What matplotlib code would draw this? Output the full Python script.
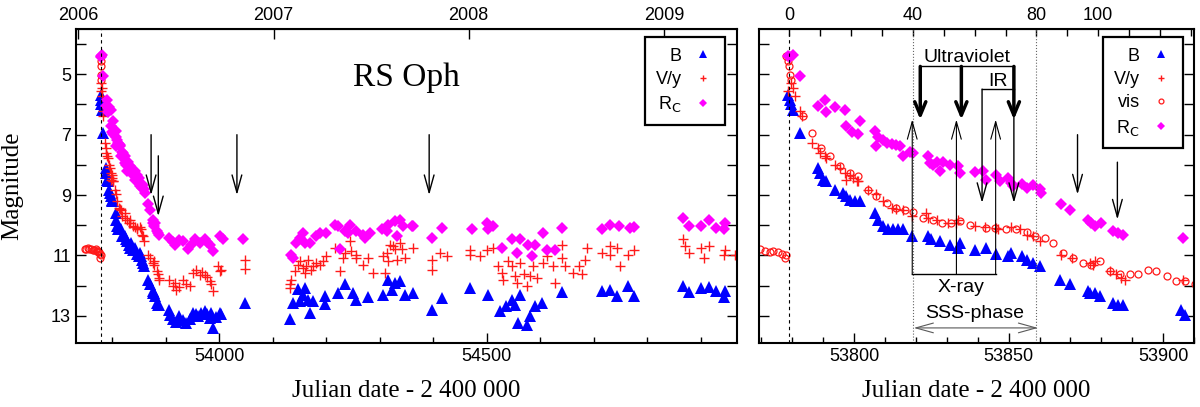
#!/usr/bin/env python3
import numpy as np
import matplotlib
matplotlib.use("Agg")
import matplotlib.pyplot as plt
from matplotlib.ticker import MultipleLocator

# Data (JD - 2400000, magnitudes)
T0 = 53779.0  # outburst

b_jd = [53778.6, 53779.2, 53779.7, 53780.3, 53782.4, 53788.3, 53788.9, 53790.0, 53791.0, 53793.7,
        53796.4, 53797.5, 53798.6, 53800.2, 53801.8, 53806.7, 53807.8, 53809.4, 53811.0, 53812.6,
        53814.2, 53815.9, 53818.6, 53824.0, 53825.0, 53827.7, 53831.0, 53833.7, 53834.2, 53839.0,
        53842.8, 53846.0, 53849.8, 53850.9, 53854.2, 53855.8, 53858.0, 53860.0, 53866.6, 53869.8,
        53875.7, 53876.3, 53877.9, 53879.5, 53883.8, 53885.4, 53887.0, 53905.9, 53907.0,
        53913.1, 53919.4, 53925.6, 53931.9, 53938.1, 53944.4, 53950.6, 53956.9, 53960.0, 53966.0,
        53972.5, 53977.0, 53981.9, 53985.0, 53988.1, 53993.0, 54000.6, 54004.0, 54047.4,
        54131.6, 54137.9, 54147.3, 54150.4, 54156.6, 54159.7, 54166.0, 54169.0, 54175.3, 54197.2,
        54197.2, 54222.2, 54234.7, 54250.3, 54256.5, 54278.4, 54306.5, 54315.9, 54322.1, 54328.4,
        54337.8, 54347.1, 54362.7, 54397.0,
        54416, 54469, 54503, 54525, 54537, 54547, 54553, 54559, 54562, 54575, 54581, 54591, 54603,
        54640, 54715, 54731, 54743, 54765, 54775, 54868, 54878, 54900, 54915, 54928, 54943, 54946]
b_mag = [5.67, 5.84, 6.00, 6.17, 6.94, 8.10, 8.27, 8.49, 8.54, 8.82,
         8.93, 9.04, 9.15, 9.21, 9.21, 9.59, 9.81, 10.03, 10.14, 10.12,
         10.14, 10.12, 10.36, 10.36, 10.47, 10.53, 10.67, 10.75, 10.58, 10.83,
         10.75, 10.94, 11.03, 10.92, 11.03, 11.14, 11.25, 11.36, 11.80, 11.96,
         12.19, 12.24, 12.24, 12.35, 12.57, 12.63, 12.63, 12.79, 12.96,
         13.12, 13.20, 13.01, 13.15, 13.23, 13.12, 12.90, 12.95, 13.01, 12.92,
         12.85, 12.95, 13.07, 12.90, 13.40, 13.05, 12.90, 12.95, 12.57,
         13.10, 12.59, 12.11, 12.51, 12.30, 12.08, 12.46, 12.90, 12.51, 12.35,
         12.62, 12.24, 11.96, 12.24, 12.48, 12.37, 12.30, 11.80, 12.13, 11.91,
         11.85, 12.30, 12.24, 12.79,
         12.41, 12.08, 12.30, 12.85, 12.68, 12.46, 12.63, 13.23, 12.30, 13.29, 13.01, 12.68, 12.57,
         12.22, 12.19, 12.13, 12.35, 12.02, 12.35, 12.00, 12.22, 12.08, 12.04, 12.19, 12.38, 12.19]

v_jd = [53778.6, 53779.7, 53780.3, 53780.8, 53782.4, 53783.0, 53786.2, 53788.3, 53788.9, 53790.5,
        53791.0, 53793.7, 53795.4, 53797.0, 53797.5, 53798.6, 53799.7, 53800.8, 53801.3, 53804.5,
        53807.2, 53809.4, 53812.1, 53813.7, 53815.9, 53818.6, 53823.4, 53824.0, 53826.7, 53830.4,
        53833.1, 53833.7, 53839.0, 53842.3, 53846.0, 53846.6, 53850.9, 53853.6, 53855.8, 53858.0,
        53860.0, 53867.1, 53870.4, 53876.3, 53877.3, 53877.9, 53882.7, 53884.9, 53886.5, 53887.6,
        53906.5,
        53913.1, 53916.3, 53919.4, 53925.6, 53931.9, 53938.1, 53944.4, 53950.6, 53956.9, 53963.1,
        53967.0, 53972.5, 53977.0, 53981.9, 53985.0, 53988.1, 53997.5, 54000.6, 54003.7, 54047.4,
        54047.4,
        54131.6, 54131.6, 54134.8, 54141.0, 54147.3, 54150.4, 54156.6, 54159.7, 54162.9, 54166.0,
        54172.2, 54175.3, 54181.5, 54187.7, 54194.0, 54200.2, 54215.9, 54225.3, 54231.6, 54234.7,
        54244.0, 54247.2, 54256.5, 54256.5, 54269.0, 54278.4, 54287.8, 54306.5, 54309.6, 54312.8,
        54315.9, 54319.0, 54325.3, 54328.4, 54331.5, 54337.8, 54340.9, 54347.1, 54362.7, 54397.0,
        54397.0,
        54413, 54425, 54469, 54469, 54488, 54500, 54512, 54522, 54528, 54531, 54540, 54547, 54553,
        54556, 54562, 54569, 54575, 54581, 54587, 54594, 54606, 54612, 54625, 54628, 54640, 54640,
        54647, 54662, 54672, 54678, 54684, 54687, 54715, 54731, 54731, 54743, 54750, 54765, 54775,
        54868, 54871, 54878, 54900, 54906, 54915, 54943, 54946, 54965]
v_mag = [5.56, 5.29, 5.45, 5.71, 6.23, 6.39, 7.27, 7.44, 7.60, 7.72,
         7.77, 8.01, 8.10, 8.27, 8.49, 8.32, 8.43, 8.54, 8.54, 8.82,
         8.98, 9.20, 9.43, 9.46, 9.48, 9.70, 9.59, 9.76, 9.81, 9.92,
         9.92, 9.81, 10.03, 10.07, 10.09, 10.14, 10.07, 10.14, 10.31, 10.36,
         10.53, 10.97, 11.08, 11.25, 11.30, 11.19, 11.52, 11.63, 11.74, 11.80,
         11.80,
         12.02, 11.90, 12.13, 12.05, 11.80, 11.95, 12.02, 11.58, 11.47, 11.64,
         11.55, 11.64, 11.70, 11.86, 11.95, 12.19, 11.36, 11.50, 11.47, 11.14,
         11.45,
         11.96, 12.07, 11.80, 11.52, 11.30, 11.19, 11.41, 11.58, 11.36, 11.14,
         11.47, 11.36, 11.25, 11.30, 11.19, 11.03, 10.75, 11.52, 11.08, 10.91,
         10.53, 10.86, 10.97, 11.08, 11.30, 11.08, 11.58, 11.03, 11.58, 10.91,
         11.19, 10.64, 10.69, 10.80, 11.14, 10.58, 10.80, 11.08, 10.75, 11.14,
         11.47,
         10.92, 11.03, 10.81, 10.97, 11.03, 10.81, 10.75, 11.36, 11.58, 11.80, 11.19, 11.36, 11.69,
         11.91, 11.25, 11.63, 12.02, 11.69, 11.36, 11.74, 11.25, 11.03, 11.36, 11.91, 10.64, 11.08,
         11.36, 11.58, 11.36, 11.63, 11.14, 10.75, 10.92, 10.70, 10.97, 10.75, 11.36, 10.97, 10.81,
         10.47, 10.70, 10.92, 10.75, 11.08, 10.70, 10.97, 10.81, 10.97]

vis_jd = [53748.0, 53751.0, 53754.0, 53757.0, 53760.0, 53763.0, 53766.0, 53769.5, 53771.1, 53772.7,
          53773.8, 53775.4, 53776.5, 53777.6, 53778.1, 53778.1, 53778.6, 53779.0, 53779.2, 53779.7,
          53783.3, 53786.2, 53789.4, 53792.1, 53795.4, 53798.6, 53801.3, 53804.5, 53807.2, 53810.5,
          53813.7, 53816.4, 53819.1, 53822.3, 53825.6, 53828.3, 53831.5, 53834.2, 53837.4, 53842.8,
          53845.5, 53849.3, 53852.5, 53855.8, 53858.5, 53861.7, 53864.4, 53867.6, 53870.9, 53874.1,
          53876.8, 53879.5, 53882.7, 53886.0, 53889.2, 53891.9, 53895.1, 53897.8, 53901.1, 53904.3,
          53907.0, 53910.2]
vis_mag = [10.80, 10.78, 10.76, 10.80, 10.78, 10.82, 10.82, 10.78, 10.86, 10.88,
           10.86, 10.90, 10.96, 11.07, 11.00, 4.40, 4.57, 4.74, 5.01, 5.18,
           6.37, 6.94, 7.44, 7.72, 8.05, 8.27, 8.38, 8.82, 9.04, 9.26,
           9.43, 9.48, 9.56, 9.76, 9.81, 9.92, 9.94, 9.87, 9.98, 10.09,
           10.09, 10.14, 10.12, 10.22, 10.36, 10.42, 10.58, 10.92, 11.08, 11.25,
           11.30, 11.19, 11.52, 11.63, 11.63, 11.63, 11.47, 11.52, 11.69, 11.85,
           11.85, 11.93]

rc_jd = [53778.6, 53779.2, 53780.3, 53782.4, 53788.3, 53790.5, 53791.0, 53793.7, 53797.0, 53797.5,
         53799.2, 53801.3, 53801.8, 53806.7, 53807.8, 53807.2, 53809.4, 53810.5, 53812.1, 53813.7,
         53814.8, 53815.9, 53818.0, 53819.1, 53824.0, 53824.5, 53825.6, 53826.7, 53827.7, 53828.8,
         53831.0, 53833.7, 53834.2, 53839.0, 53841.7, 53842.8, 53846.0, 53847.1, 53849.8, 53850.9,
         53851.5, 53854.2, 53855.8, 53858.0, 53860.0, 53860.6, 53866.8, 53870.0, 53875.7, 53876.8,
         53877.9, 53880.0, 53883.8, 53885.4, 53887.0, 53906.5,
         53913.0, 53916.3, 53925.0, 53931.9, 53941.3, 53947.0, 53953.8, 53963.1, 53972.5, 53977.0,
         53981.9, 53988.1, 54000.6, 54006.9, 54044.3,
         54134.8, 54137.9, 54143.6, 54150.4, 54156.6, 54159.7, 54169.0, 54181.5, 54187.7, 54200.2,
         54215.9, 54222.2, 54225.3, 54234.7, 54240.9, 54244.0, 54256.5, 54269.0, 54272.2, 54281.6,
         54303.4, 54312.8, 54315.9, 54328.4, 54331.5, 54337.8, 54344.0, 54359.6, 54362.7, 54397.0,
         54416, 54472, 54500, 54503, 54512, 54528, 54547, 54556, 54562, 54578, 54584, 54591, 54606,
         54612, 54628, 54640, 54715, 54731, 54747, 54768, 54775, 54868, 54878, 54900, 54915, 54928,
         54943, 54946]
rc_mag = [4.40, 4.42, 4.35, 5.04, 6.04, 5.84, 6.26, 6.08, 6.19, 6.72,
          6.92, 6.98, 6.56, 6.89, 7.06, 7.38, 7.16, 7.27, 7.30, 7.33,
          7.36, 7.69, 7.58, 7.62, 7.72, 7.94, 8.00, 7.92, 8.21, 7.92,
          8.00, 8.05, 8.27, 8.25, 8.21, 8.49, 8.32, 8.54, 8.43, 8.60,
          8.71, 8.63, 8.76, 8.65, 8.81, 8.93, 9.28, 9.50, 9.81, 9.92,
          10.01, 9.92, 10.20, 10.25, 10.31, 10.42,
          10.55, 10.64, 10.50, 10.53, 10.80, 10.65, 10.47, 10.58, 10.47, 10.55,
          10.64, 10.86, 10.36, 10.45, 10.45,
          10.97, 11.08, 10.58, 10.42, 10.25, 10.58, 10.58, 10.36, 10.25, 10.25,
          9.98, 10.03, 10.80, 10.20, 10.25, 9.98, 10.20, 10.31, 10.42, 10.25,
          10.14, 10.20, 9.98, 9.87, 10.36, 9.81, 10.03, 10.03, 10.03, 10.42,
          10.09, 10.11, 9.92, 10.14, 10.03, 10.75, 10.47, 10.92, 10.45, 10.64, 11.03, 10.64, 10.25,
          10.81, 10.81, 10.09, 10.14, 9.98, 10.03, 10.09, 10.07, 9.76, 10.03, 10.03, 9.81, 10.09,
          10.14, 9.92]

# arrows (JD of observations marked in the figure)
arrows_left = [53872.5, 53886.0, 54033.0, 54392.5]
arrows_left_top = [7.0, 7.7, 7.0, 7.0]
arrows_left_tip = [9.0, 9.7, 9.0, 9.0]
uv_jd = [53821.4, 53834.7, 53851.7]
ir_jd = [53841.4, 53851.7]
xray_jd = [53818.8, 53833.1, 53845.8]

years = [2006, 2007, 2008, 2009]
year_jd = [53736.5, 54101.5, 54466.5, 54832.5]
days_ticks = list(range(0, 140, 10))
days_labels = ['0', '40', '80', '100']

SERIF = 'Liberation Serif'
SANS = 'Liberation Sans'


def plot_series(ax, with_vis):
    hb, = ax.plot(b_jd, b_mag, ls='none', marker='^', ms=8, color='#0000ff', mew=0, label='B')
    hv, = ax.plot(v_jd, v_mag, ls='none', marker='+', ms=7, color='#ff1a1a', mew=1.0, label='V/y')
    vj = np.array(vis_jd)
    vm = np.array(vis_mag)
    if not with_vis:
        # only pre-outburst and peak visual points on the long panel
        keep = vj < 53780
        vj, vm = vj[keep], vm[keep]
    hvis, = ax.plot(vj, vm, ls='none', marker='o', ms=5, mfc='none', mec='#ff1a1a', mew=0.9, label='vis')
    hr, = ax.plot(rc_jd, rc_mag, ls='none', marker='D', ms=6.5, color='#ff00ff', mew=0, label=r'R$_\mathrm{C}$')
    if with_vis:
        return [hb, hv, hvis, hr]
    return [hb, hv, hr]


def style_axes(ax, ylabels):
    ax.set_ylim(13.9, 3.5)
    ax.set_yticks(range(4, 14))
    if ylabels:
        ax.set_yticklabels([str(m) if m % 2 else '' for m in range(4, 14)])
    else:
        ax.set_yticklabels([])
    ax.tick_params(axis='y', which='both', direction='in', left=True, right=True, length=7, width=1)
    ax.tick_params(axis='x', which='major', direction='in', length=7, width=1, top=False)
    ax.tick_params(axis='x', which='minor', direction='in', length=4, width=1, top=False)
    ax.tick_params(labelsize=13)
    for lab in ax.get_xticklabels() + ax.get_yticklabels():
        lab.set_family(SANS)
    for sp in ax.spines.values():
        sp.set_linewidth(1.5)
    ax.set_xlabel('Julian date - 2 400 000', family=SERIF, fontsize=18, labelpad=11)


def legend(ax, handles, anchor):
    leg = ax.legend(handles=handles, loc='upper right', bbox_to_anchor=anchor, borderaxespad=0,
                    markerfirst=False, fancybox=False, edgecolor='k', framealpha=1,
                    prop={'family': SANS, 'size': 13}, handlelength=1.24, handletextpad=0.56,
                    labelspacing=0.35, borderpad=0.6, numpoints=1, markerscale=0.7)
    leg.get_frame().set_linewidth(1.6)


def arrow(ax, x, y0, y1, lw=1.0, style='->,head_length=0.9,head_width=0.25', ms=14, color='k'):
    ax.annotate('', xy=(x, y1), xytext=(x, y0),
                arrowprops=dict(arrowstyle=style, lw=lw, color=color, mutation_scale=ms,
                                shrinkA=0, shrinkB=0))


def main():
    plt.rcParams['mathtext.default'] = 'regular'
    fig = plt.figure(figsize=(12, 4.07), dpi=100)
    ax1 = fig.add_axes([0.0633, 0.1572, 0.5508, 0.7715])
    ax2 = fig.add_axes([0.6325, 0.1572, 0.3625, 0.7715])

    # --- left panel: whole light curve 2006-2009
    h1 = plot_series(ax1, with_vis=False)
    ax1.set_xlim(53732, 54968)
    ax1.axvline(T0, color='k', ls=(0, (3, 3)), lw=0.8)
    ax1.xaxis.set_major_locator(MultipleLocator(500))
    ax1.xaxis.set_minor_locator(MultipleLocator(100))
    style_axes(ax1, ylabels=True)
    ax1.set_ylabel('Magnitude', family=SERIF, fontsize=18)
    ax1.yaxis.set_label_coords(-0.08, 0.5)
    legend(ax1, h1, (0.982, 0.975))
    ax1.text(54350, 5.1, 'RS Oph', family=SERIF, fontsize=24, ha='center', va='center')
    for x, y0, y1 in zip(arrows_left, arrows_left_top, arrows_left_tip):
        arrow(ax1, x, y0, y1)
    top1 = ax1.secondary_xaxis('top')
    top1.set_xticks(year_jd, labels=[str(y) for y in years])
    top1.tick_params(direction='in', length=7, width=1, labelsize=13)
    for lab in top1.get_xticklabels():
        lab.set_family(SANS)

    # --- right panel: first months after outburst
    h2 = plot_series(ax2, with_vis=True)
    ax2.set_xlim(53769.2, 53910)
    ax2.axvline(T0, color='k', ls=(0, (3, 3)), lw=0.8)
    ax2.axvline(T0 + 40, color='0.4', ls=':', lw=0.8)
    ax2.axvline(T0 + 80, color='0.4', ls=':', lw=0.8)
    ax2.xaxis.set_major_locator(MultipleLocator(50))
    ax2.xaxis.set_minor_locator(MultipleLocator(10))
    style_axes(ax2, ylabels=False)
    legend(ax2, h2, (0.975, 0.975))
    top2 = ax2.secondary_xaxis('top', functions=(lambda x: x - T0, lambda d: d + T0))
    top2.set_xticks(days_ticks, labels=[str(d) if str(d) in days_labels else '' for d in days_ticks])
    top2.tick_params(direction='in', length=5, width=1, labelsize=13)
    for lab in top2.get_xticklabels():
        lab.set_family(SANS)

    # Ultraviolet bracket (thick arrows)
    ax2.plot([uv_jd[0], uv_jd[-1]], [4.74, 4.74], color='k', lw=1)
    for x in uv_jd:
        arrow(ax2, x, 4.74, 6.5, lw=2.5, style='->,head_length=0.6,head_width=0.25', ms=16)
    ax2.text(np.mean([uv_jd[0], uv_jd[-1]]), 4.45, 'Ultraviolet', family=SANS, fontsize=14,
             ha='center', va='center')
    # IR bracket
    ax2.plot([ir_jd[0], ir_jd[-1]], [5.49, 5.49], color='k', lw=1)
    for x in ir_jd:
        arrow(ax2, x, 5.49, 9.26)
    ax2.text(np.mean(ir_jd), 5.23, 'IR', family=SANS, fontsize=14, ha='center', va='center')
    # X-ray bracket (arrows pointing up)
    ax2.plot([xray_jd[0], xray_jd[-1]], [11.63, 11.63], color='k', lw=1)
    for x in xray_jd:
        arrow(ax2, x, 11.63, 6.5, lw=0.8)
    ax2.text(53834.7, 12.05, 'X-ray', family=SANS, fontsize=14, ha='center', va='center')
    # SSS phase
    ax2.annotate('', xy=(T0 + 40.3, 13.4), xytext=(T0 + 80.5, 13.4),
                 arrowprops=dict(arrowstyle='<->,head_length=0.9,head_width=0.25', lw=0.8,
                                 color='0.35', mutation_scale=14, shrinkA=0, shrinkB=0))
    ax2.text(53839, 12.92, 'SSS-phase', family=SANS, fontsize=14, ha='center', va='center')
    # observation arrows
    arrow(ax2, 53872.3, 7.0, 8.98)
    arrow(ax2, 53885.2, 7.91, 9.81)

    fig.savefig('out.png', dpi=100)


if __name__ == '__main__':
    main()
